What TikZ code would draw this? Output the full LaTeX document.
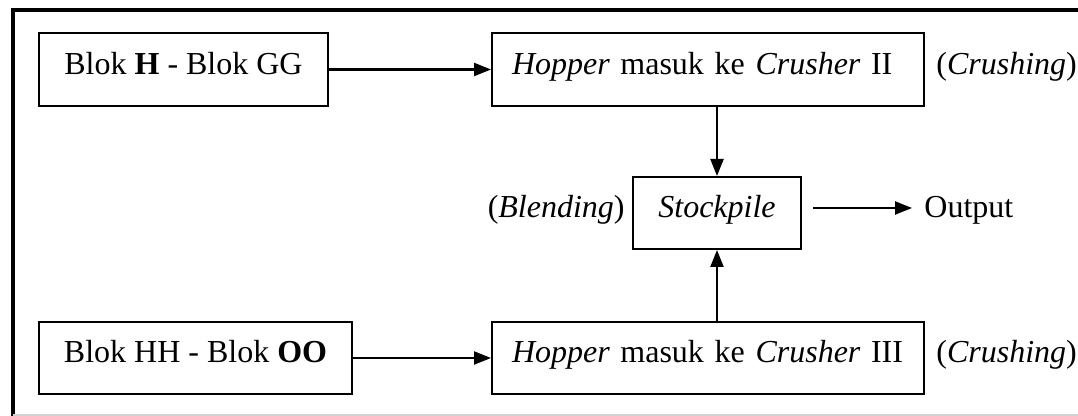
\documentclass[tikz,border=0pt]{standalone}
\usepackage{fontspec}
\setmainfont{Liberation Serif}
\usetikzlibrary{arrows.meta, positioning}

\begin{document}
\begin{tikzpicture}[
  x=0.5pt, y=-0.5pt,
  font=\fontsize{16}{19}\selectfont,
  box/.style    = {rectangle, draw, line width=1pt, align=center,
                   text height=11pt, text depth=6pt,
                   minimum height=36.5pt},
  hopbox/.style = {box, text width=196pt, align=left, inner xsep=10pt},
  lbl/.style    = {inner sep=0pt, text height=11pt, text depth=6pt},
  arr/.style    = {-{Triangle[length=8.5pt, width=6.5pt]}, line width=1.1pt},
  frame/.style  = {line width=1.6pt},
]
\useasboundingbox (0,0) rectangle (1078,416);

%% --- frame ---
\draw[frame] (13,416) -- (13,10) -- (1078,10);
\draw[gray!35, line width=0.6pt] (13,415) -- (1078,415);

%% --- top row ---
\node[box, minimum width=144.5pt]   (blokA)  at (183.5,69.5) {Blok \textbf{H} - Blok GG};
\node[hopbox]                        (hopA)   at (708,69.5)   {{\itshape Hopper} masuk ke {\itshape Crusher} II};
\node[lbl, right=5.5pt of hopA]      (crushA) {({\itshape Crushing})};

%% --- middle ---
\node[box, minimum width=84pt, minimum height=36pt] (stock) at (717,213) {{\itshape Stockpile}};
\node[lbl, left=3.5pt of stock]                     (blend) {({\itshape Blending})};
\node[lbl, inner xsep=6pt, right=55pt of stock]     (out)   {Output};

%% --- bottom row ---
\node[box, minimum width=156.5pt, minimum height=36pt] (blokB)  at (195.5,358) {Blok HH - Blok \textbf{OO}};
\node[hopbox, minimum height=36pt]                     (hopB)   at (708,358)   {{\itshape Hopper} masuk ke {\itshape Crusher} III};
\node[lbl, right=5.5pt of hopB]                        (crushB) {({\itshape Crushing})};

%% --- arrows ---
\draw[arr] (blokA) -- (hopA);
\draw[arr] (blokB) -- (hopB);
\draw[arr] (hopA.south -| stock) -- (stock);
\draw[arr] (hopB.north -| stock) -- (stock);
\draw[arr, shorten <=5.5pt] ([yshift=2.5pt]stock.east) -- ([yshift=2.5pt]out.west);

\end{tikzpicture}
\end{document}
